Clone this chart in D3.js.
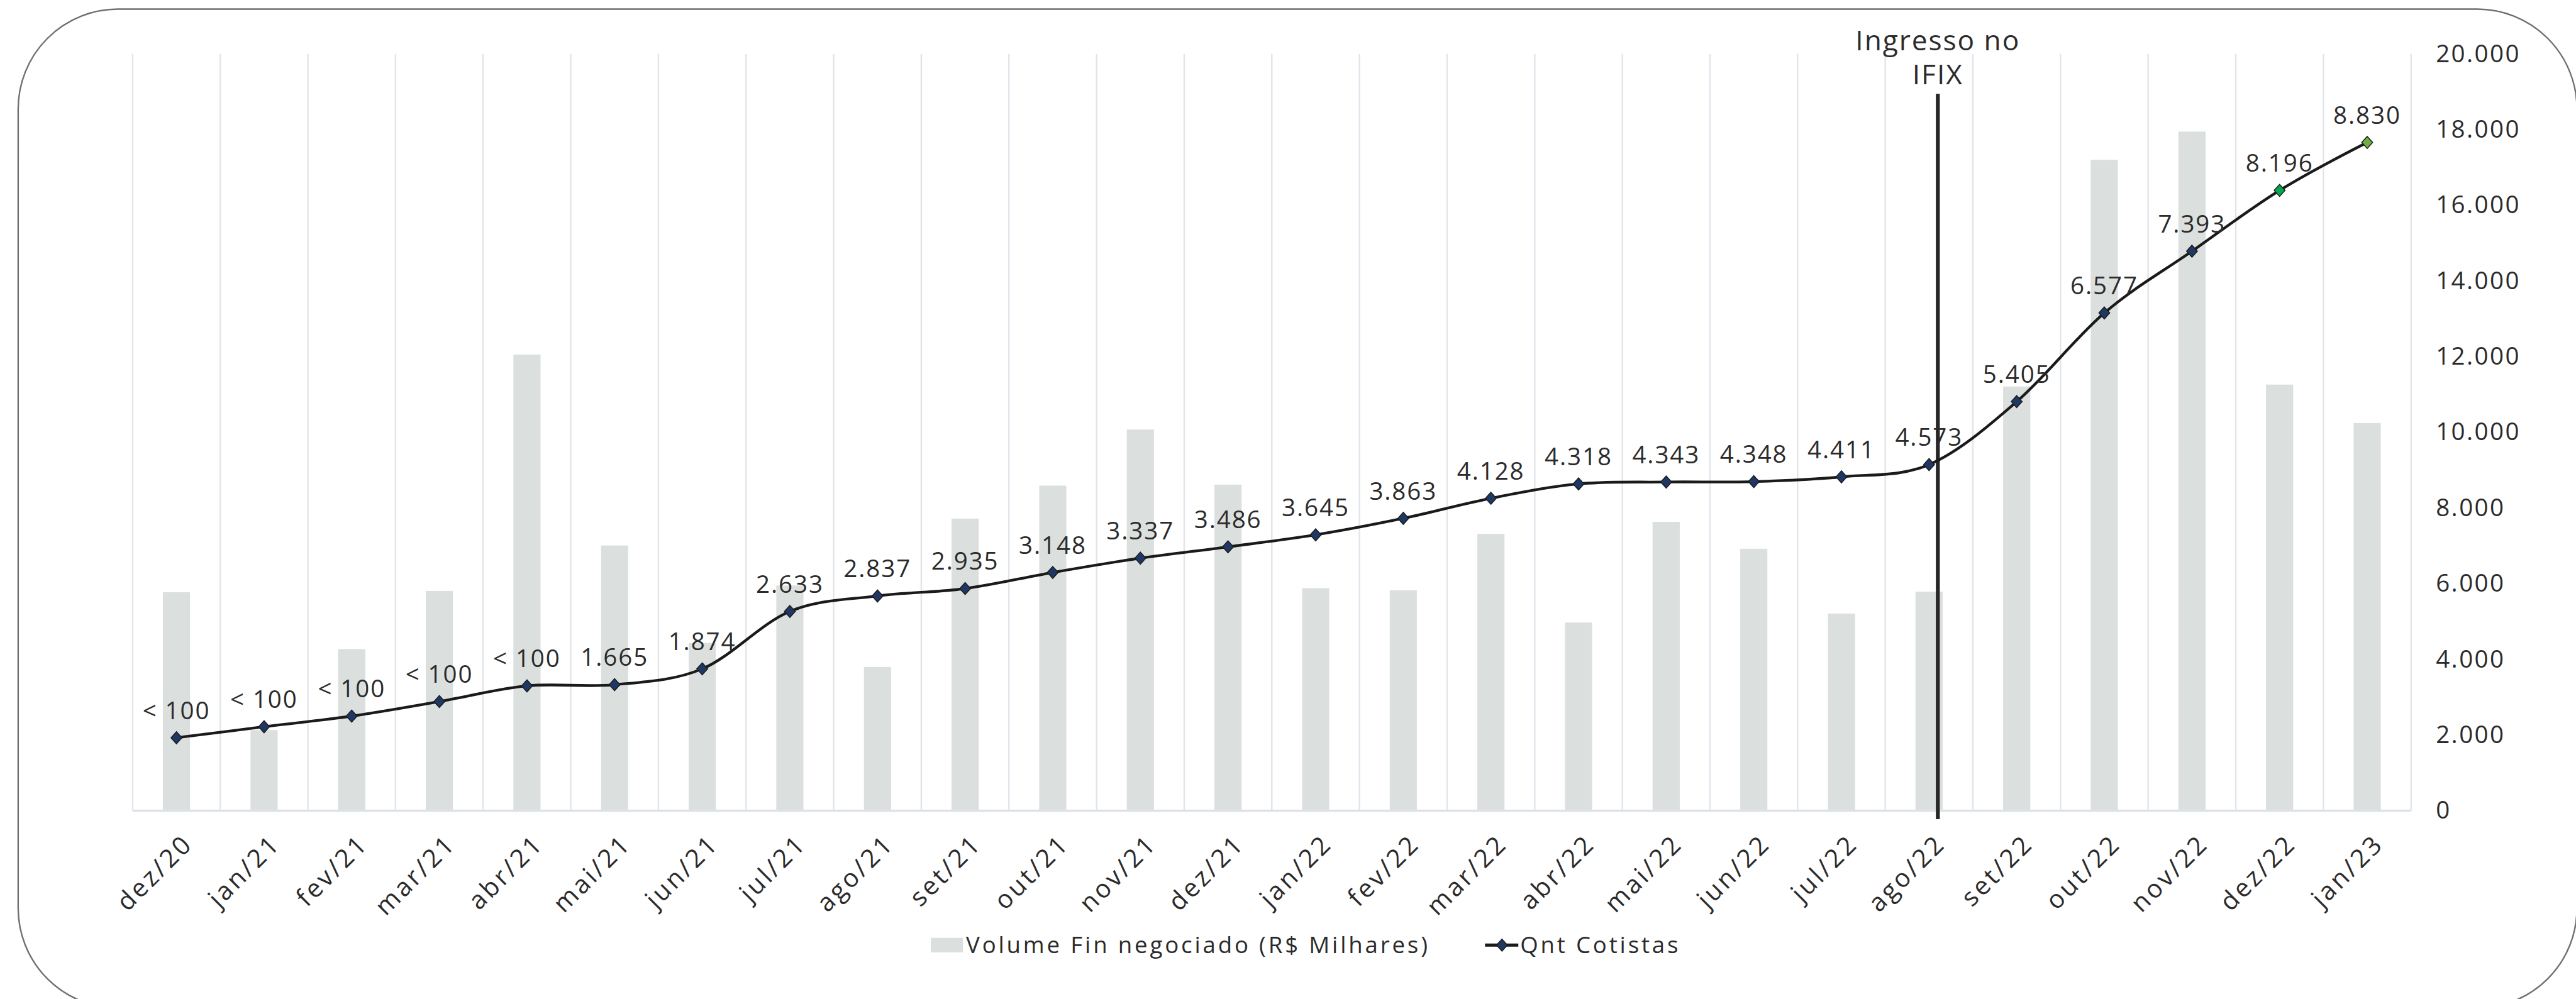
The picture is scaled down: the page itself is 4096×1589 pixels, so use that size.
<!DOCTYPE html>
<html>
<head>
<meta charset="utf-8">
<script src="https://cdn.jsdelivr.net/npm/d3@7"></script>
<style>
  html, body { margin: 0; padding: 0; background: #ffffff; overflow: hidden; }
  svg { display: block; }
  text { font-family: 'Open Sans', 'Noto Sans', 'DejaVu Sans', sans-serif; fill: #2b2b2b; }
</style>
</head>
<body>
<svg id="chart" width="4096" height="1589"></svg>
<script>
// ---- data ----
const months = ["dez/20", "jan/21", "fev/21", "mar/21", "abr/21", "mai/21", "jun/21", "jul/21",
  "ago/21", "set/21", "out/21", "nov/21", "dez/21", "jan/22", "fev/22", "mar/22", "abr/22",
  "mai/22", "jun/22", "jul/22", "ago/22", "set/22", "out/22", "nov/22", "dez/22", "jan/23"];

// Volume financeiro negociado (R$ milhares)
const volume = [5773, 2130, 4272, 5808, 12054, 7008, 4432, 5950, 3797, 7720, 8589, 10072, 8616,
  5880, 5824, 7317, 4973, 7632, 6922, 5210, 5790, 11210, 17202, 17947, 11261, 10245];

// Quantidade de cotistas
const cotistas = [964, 1109, 1250, 1442, 1649, 1665, 1874, 2633, 2837, 2935, 3148, 3337, 3486,
  3645, 3863, 4128, 4318, 4343, 4348, 4411, 4573, 5405, 6577, 7393, 8196, 8830];

// first months are published only as "< 100"
const cotistasLabelPrefix = ["< 100", "< 100", "< 100", "< 100", "< 100"];

// marker colours (last two months highlighted)
const markerColors = ["#1f3763", "#1f3763", "#1f3763", "#1f3763", "#1f3763", "#1f3763", "#1f3763",
  "#1f3763", "#1f3763", "#1f3763", "#1f3763", "#1f3763", "#1f3763", "#1f3763", "#1f3763", "#1f3763",
  "#1f3763", "#1f3763", "#1f3763", "#1f3763", "#1f3763", "#1f3763", "#1f3763", "#1f3763", "#00a651",
  "#70ad47"];

const volumeTicks = [0, 2000, 4000, 6000, 8000, 10000, 12000, 14000, 16000, 18000, 20000];

const eventMonth = "ago/22";
const eventLines = ["Ingresso no", "IFIX"];
const legendLabels = ["Volume Fin negociado (R$ Milhares)", "Qnt Cotistas"];

// ---- formatting ----
const ptBR = d3.formatLocale({ decimal: ",", thousands: ".", grouping: [3], currency: ["R$", ""] });
const fmt = ptBR.format(",d");

// ---- layout ----
const svg = d3.select("#chart");
const root = svg.append("g").attr("transform", "scale(0.963)");

const plot = { left: 219, right: 3981, top: 89, bottom: 1339 };

const x = d3.scaleBand().domain(months).range([plot.left, plot.right]).paddingInner(0).paddingOuter(0);
const yVol = d3.scaleLinear().domain([0, 20000]).range([plot.bottom, plot.top]);
const yCot = d3.scaleLinear().domain([0, 10000]).range([plot.bottom, plot.top]);

// frame
root.append("rect")
  .attr("x", 30).attr("y", 15)
  .attr("width", 4225).attr("height", 1650)
  .attr("rx", 165).attr("ry", 165)
  .attr("fill", "none")
  .attr("stroke", "#707070")
  .attr("stroke-width", 2.5);

// vertical category gridlines
const bounds = months.map(m => x(m)).concat([x.range()[1]]);
root.append("g").selectAll("line")
  .data(bounds)
  .join("line")
  .attr("x1", d => d).attr("x2", d => d)
  .attr("y1", plot.top).attr("y2", plot.bottom)
  .attr("stroke", "#e1e5eb")
  .attr("stroke-width", 2.5);

// bars
const barW = x.bandwidth() * 0.31;
root.append("g").selectAll("rect")
  .data(volume)
  .join("rect")
  .attr("x", (d, i) => x(months[i]) + x.bandwidth() / 2 - barW / 2)
  .attr("y", d => yVol(d))
  .attr("width", barW)
  .attr("height", d => yVol(0) - yVol(d))
  .attr("fill", "#dbe0de");

// baseline
root.append("line")
  .attr("x1", plot.left).attr("x2", plot.right)
  .attr("y1", plot.bottom).attr("y2", plot.bottom)
  .attr("stroke", "#dde2e8")
  .attr("stroke-width", 3.5);

// right axis
const axisR = d3.axisRight(yVol)
  .tickValues(volumeTicks)
  .tickSize(0)
  .tickPadding(0)
  .tickFormat(d => fmt(d));
const gR = root.append("g")
  .attr("transform", `translate(${plot.right + 41},0)`)
  .call(axisR);
gR.select(".domain").remove();
gR.selectAll("text")
  .attr("font-size", 40)
  .attr("letter-spacing", 2.5)
  .attr("fill", "#2b2b2b")
  .style("font-family", "'Open Sans', 'Noto Sans', sans-serif");

// bottom axis
const axisB = d3.axisBottom(x).tickSize(0).tickPadding(0);
const gB = root.append("g")
  .attr("transform", `translate(0,${plot.bottom})`)
  .call(axisB);
gB.select(".domain").remove();
gB.selectAll("text")
  .attr("font-size", 42)
  .attr("letter-spacing", 4)
  .attr("fill", "#2b2b2b")
  .style("font-family", "'Open Sans', 'Noto Sans', sans-serif")
  .attr("text-anchor", "end")
  .attr("dy", "0.72em")
  .attr("transform", "translate(8,36) rotate(-45)");

// IFIX event marker
const evX = x(eventMonth) + x.bandwidth() * 0.6;
root.append("line")
  .attr("x1", evX).attr("x2", evX)
  .attr("y1", 155).attr("y2", 1353)
  .attr("stroke", "#262626")
  .attr("stroke-width", 6.5);
root.append("g").selectAll("text")
  .data(eventLines)
  .join("text")
  .attr("x", evX)
  .attr("y", (d, i) => 83 + i * 56)
  .attr("text-anchor", "middle")
  .attr("font-size", 46)
  .attr("letter-spacing", 2)
  .text(d => d);

// Qnt Cotistas line
const pts = cotistas.map((v, i) => [x(months[i]) + x.bandwidth() / 2, yCot(v)]);
root.append("path")
  .datum(pts)
  .attr("d", d3.line().curve(d3.curveCardinal.tension(0))(pts))
  .attr("fill", "none")
  .attr("stroke", "#1a1a1a")
  .attr("stroke-width", 4.5);

// diamond markers
const diamond = "M0,-10 L9,0 L0,10 L-9,0 Z";
root.append("g").selectAll("path")
  .data(pts)
  .join("path")
  .attr("transform", d => `translate(${d[0]},${d[1]})`)
  .attr("d", diamond)
  .attr("fill", (d, i) => markerColors[i])
  .attr("stroke", "#1a1a1a")
  .attr("stroke-width", 1.5);

// value labels
root.append("g").selectAll("text")
  .data(cotistas)
  .join("text")
  .attr("x", (d, i) => pts[i][0])
  .attr("y", (d, i) => pts[i][1] - 31)
  .attr("text-anchor", "middle")
  .attr("font-size", 40)
  .attr("letter-spacing", 2)
  .text((d, i) => i < cotistasLabelPrefix.length ? cotistasLabelPrefix[i] : fmt(d));

// legend
const lg = root.append("g");
lg.append("rect")
  .attr("x", 1537).attr("y", 1549)
  .attr("width", 53).attr("height", 24)
  .attr("fill", "#dbe0de");
lg.append("text")
  .attr("x", 1595).attr("y", 1574)
  .attr("font-size", 38)
  .attr("letter-spacing", 4)
  .text(legendLabels[0]);
lg.append("line")
  .attr("x1", 2452).attr("x2", 2507)
  .attr("y1", 1561).attr("y2", 1561)
  .attr("stroke", "#1a1a1a")
  .attr("stroke-width", 5);
lg.append("path")
  .attr("transform", "translate(2480,1561)")
  .attr("d", diamond)
  .attr("fill", "#1f3763")
  .attr("stroke", "#1a1a1a")
  .attr("stroke-width", 1.5);
lg.append("text")
  .attr("x", 2510).attr("y", 1574)
  .attr("font-size", 38)
  .attr("letter-spacing", 4)
  .text(legendLabels[1]);
</script>
</body>
</html>
